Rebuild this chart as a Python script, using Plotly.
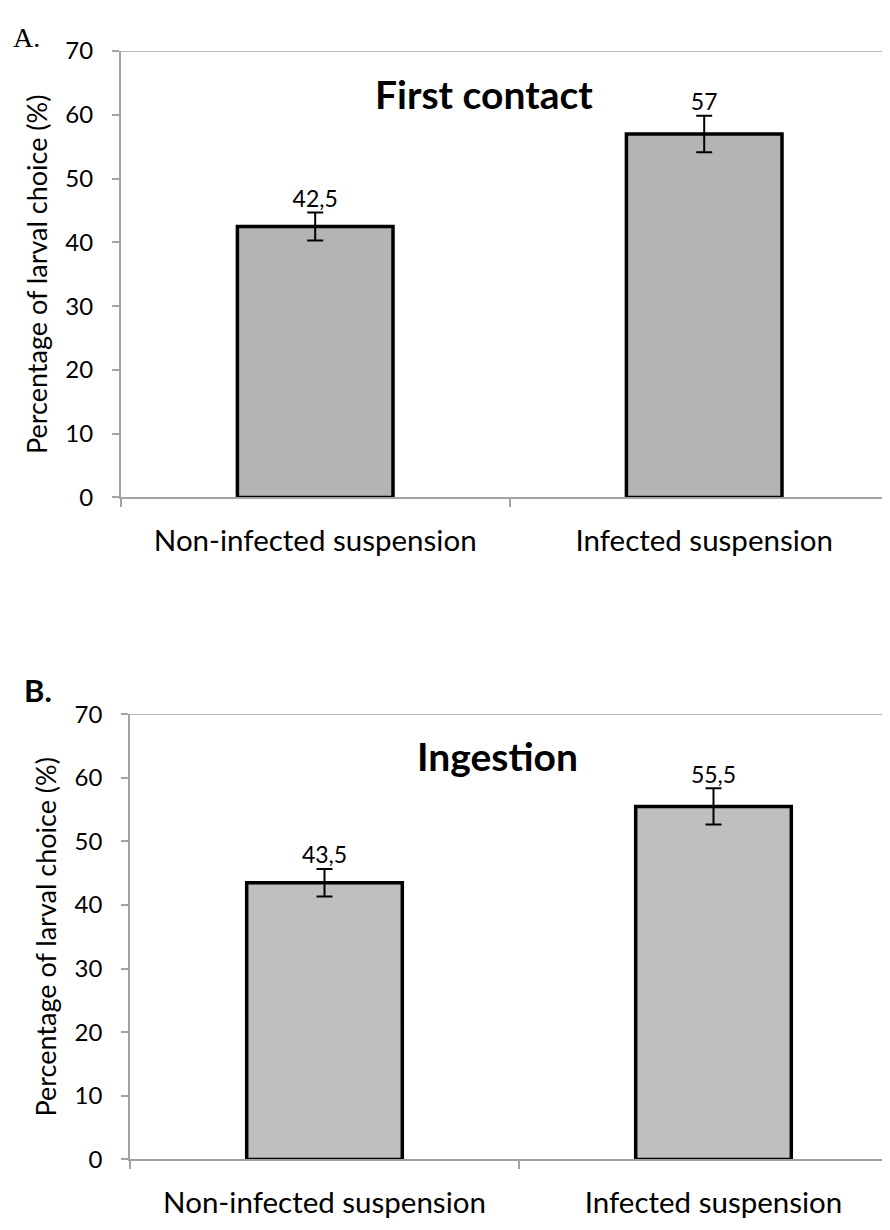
import plotly.graph_objects as go

categories = ["Non-infected suspension", "Infected suspension"]
first_contact = [42.5, 57]
first_contact_err = [2.2, 2.85]
first_contact_labels = ["42,5", "57"]
ingestion = [43.5, 55.5]
ingestion_err = [2.15, 2.85]
ingestion_labels = ["43,5", "55,5"]
y_ticks = [0, 10, 20, 30, 40, 50, 60, 70]

# page body has an 8px margin: figure is placed at (8, 8) on screen
OFF = 8
W, H = 890 - OFF, 1230 - OFF
FONT = "Lato"
AXC = "#a3a3a3"
CAT_PX = 389.0  # pixels per category

fig = go.Figure()

def add_panel(vals, errs, labels, xa, ya, fill):
    fig.add_trace(go.Bar(
        x=categories, y=vals, xaxis=xa, yaxis=ya, width=0.40,
        marker=dict(color=fill, line=dict(color="black", width=3.5)),
        error_y=dict(type="data", array=errs, visible=True, color="black", thickness=2, width=8),
        showlegend=False, hoverinfo="skip",
    ))
    fig.add_trace(go.Scatter(
        x=categories, y=[v + e for v, e in zip(vals, errs)], xaxis=xa, yaxis=ya,
        mode="text", text=labels, textposition="top center",
        textfont=dict(family=FONT, size=23, color="black"), showlegend=False, hoverinfo="skip",
    ))

add_panel(first_contact, first_contact_err, first_contact_labels, "x", "y", "#b4b4b4")
add_panel(ingestion, ingestion_err, ingestion_labels, "x2", "y2", "#bfbfbf")

def yd(top, bottom):
    return [1 - (bottom - OFF) / H, 1 - (top - OFF) / H]

def xd(left):
    return [(left - OFF) / W, 1]

def xr(left):
    return [-0.5, -0.5 + (890 - left) / CAT_PX]

xcommon = dict(type="category", tickson="boundaries", ticks="outside", ticklen=8, tickcolor=AXC,
               tickwidth=1.5, showline=True, linecolor=AXC, linewidth=1.5, showgrid=False,
               zeroline=False, tickfont=dict(family=FONT, size=29.5, color="black"), ticklabelstandoff=16)
ycommon = dict(range=[0, 70], tickvals=y_ticks, ticks="outside", ticklen=7, tickcolor=AXC, tickwidth=1.5,
               showline=True, linecolor=AXC, linewidth=1.5, showgrid=False, zeroline=False,
               tickfont=dict(family=FONT, size=24, color="black"), ticklabelstandoff=14,
               title=dict(text="Percentage of larval choice (%)", font=dict(family=FONT, size=27, color="black"),
                          standoff=10))

fig.update_layout(
    width=W, height=H, margin=dict(l=0, r=0, t=0, b=0),
    paper_bgcolor="white", plot_bgcolor="white",
    xaxis=dict(domain=xd(120.7), range=xr(120.7), anchor="y", **xcommon),
    yaxis=dict(domain=yd(35.7, 493), anchor="x", **ycommon),
    xaxis2=dict(domain=xd(130), range=xr(130), anchor="y2", **xcommon),
    yaxis2=dict(domain=yd(715, 1171), anchor="x2", **ycommon),
)

# top border line at 70
for xref, yref in (("x domain", "y"), ("x2 domain", "y2")):
    fig.add_shape(type="line", xref=xref, yref=yref, x0=0, x1=1, y0=70, y1=70,
                  line=dict(color=AXC, width=1.5))

fig.add_annotation(text="First contact", xref="x", yref="y", x=0.435, y=63.3, showarrow=False,
                   font=dict(family=FONT, size=39, color="black", weight="bold"))
fig.add_annotation(text="Ingestion", xref="x2", yref="y2", x=0.445, y=63.5, showarrow=False,
                   font=dict(family=FONT, size=39, color="black", weight="bold"))
fig.add_annotation(text="A.", xref="paper", yref="paper", x=(11 - OFF) / W, y=1 - (22 - OFF) / H,
                   xanchor="left", yanchor="middle", showarrow=False,
                   font=dict(family="Liberation Serif", size=28, color="black"))
fig.add_annotation(text="B.", xref="paper", yref="paper", x=(22 - OFF) / W, y=1 - (690 - OFF) / H,
                   xanchor="left", yanchor="middle", showarrow=False,
                   font=dict(family=FONT, size=31, color="black", weight="bold"))

fig.write_html("out.html")
